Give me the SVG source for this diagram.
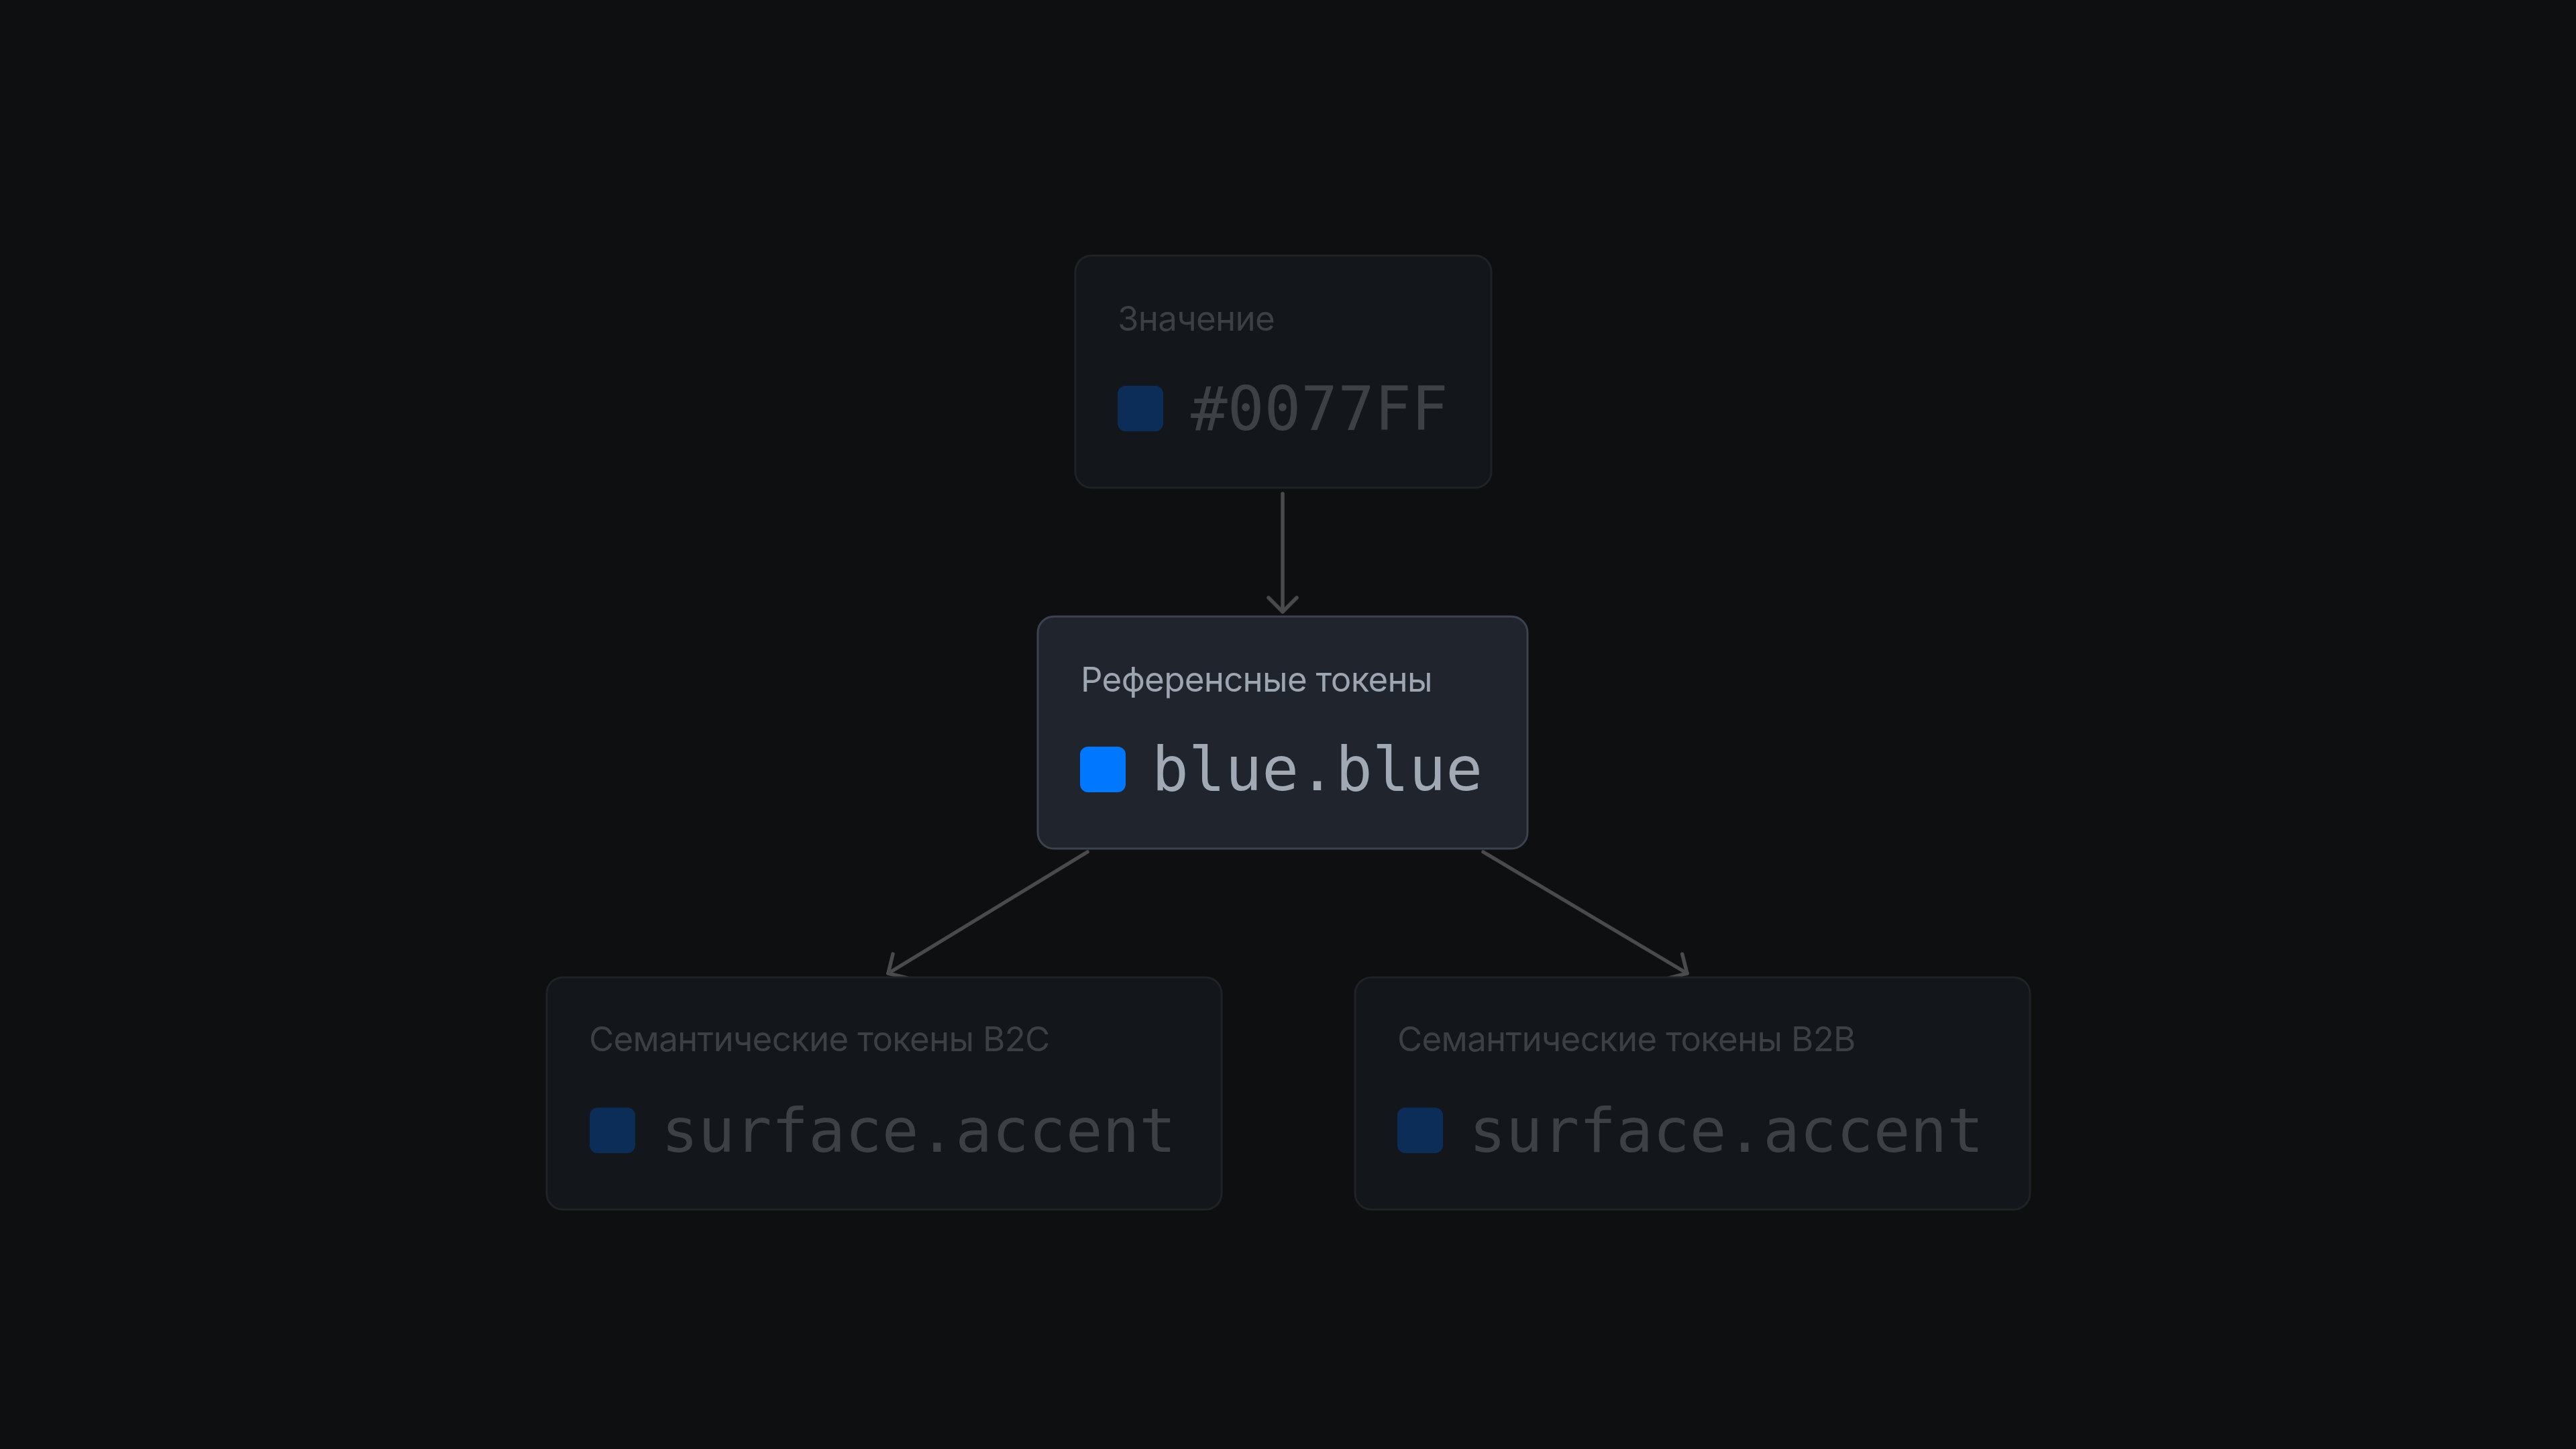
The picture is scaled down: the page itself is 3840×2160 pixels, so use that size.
<svg xmlns="http://www.w3.org/2000/svg" width="3840" height="2160" viewBox="0 0 3840 2160">
  <defs>
    <style>
      .card-dim { fill: #13161a; stroke: #1f2227; stroke-width: 3; }
      .card-active { fill: #20242d; stroke: #3c4350; stroke-width: 3; }
      .label { font-family: Inter, "Noto Sans", "Liberation Sans", sans-serif; font-size: 51px; letter-spacing: -0.7px; }
      .label-dim { fill: #3c3f44; }
      .label-active { fill: #9da5b0; }
      .code { font-family: "DejaVu Sans Mono", "Liberation Mono", monospace; font-size: 91px; }
      .code-dim { fill: #3d4146; }
      .code-active { fill: #a0a9b4; }
      .sw-dim { fill: #0c2d57; }
      .sw-active { fill: #0077ff; }
      .conn { fill: none; stroke: #4a4a4a; stroke-width: 5.5; stroke-linecap: round; marker-end: url(#chev); }
    </style>
    <marker id="chev" markerUnits="userSpaceOnUse" viewBox="-26 -26 30 52" markerWidth="30" markerHeight="52" refX="0" refY="0" orient="auto">
      <path d="M -21 -21 L 0 0 L -21 21" fill="none" stroke="#4a4a4a" stroke-width="5.5" stroke-linecap="round" stroke-linejoin="round"/>
    </marker>
  </defs>
  <rect x="0" y="0" width="3840" height="2160" fill="#0e0f11"/>

  <g id="connectors">
    <path class="conn" d="M 1912 736 L 1912 912"/>
    <path class="conn" d="M 1621 1270 L 1324 1451"/>
    <path class="conn" d="M 2211 1270 L 2515 1451"/>
  </g>

  <g id="node-value">
    <rect class="card-dim" x="1603" y="381" width="620" height="346" rx="24"/>
    <text class="label label-dim" x="1666" y="493">Значение</text>
    <rect class="sw-dim" x="1666" y="575" width="68" height="68" rx="12"/>
    <text class="code code-dim" x="1775" y="641">#0077FF</text>
  </g>

  <g id="node-reference">
    <rect class="card-active" x="1547" y="919" width="730" height="346" rx="24"/>
    <text class="label label-active" x="1611" y="1031">Референсные токены</text>
    <rect class="sw-active" x="1610" y="1113" width="68" height="68" rx="12"/>
    <text class="code code-active" x="1717" y="1178">blue.blue</text>
  </g>

  <g id="node-b2c">
    <rect class="card-dim" x="815" y="1457" width="1006" height="346" rx="24"/>
    <text class="label label-dim" x="878" y="1567">Семантические токены B2C</text>
    <rect class="sw-dim" x="879" y="1651" width="68" height="68" rx="12"/>
    <text class="code code-dim" x="986" y="1717">surface.accent</text>
  </g>

  <g id="node-b2b">
    <rect class="card-dim" x="2020" y="1457" width="1006" height="346" rx="24"/>
    <text class="label label-dim" x="2083" y="1567">Семантические токены B2B</text>
    <rect class="sw-dim" x="2083" y="1651" width="68" height="68" rx="12"/>
    <text class="code code-dim" x="2190" y="1717">surface.accent</text>
  </g>
</svg>
